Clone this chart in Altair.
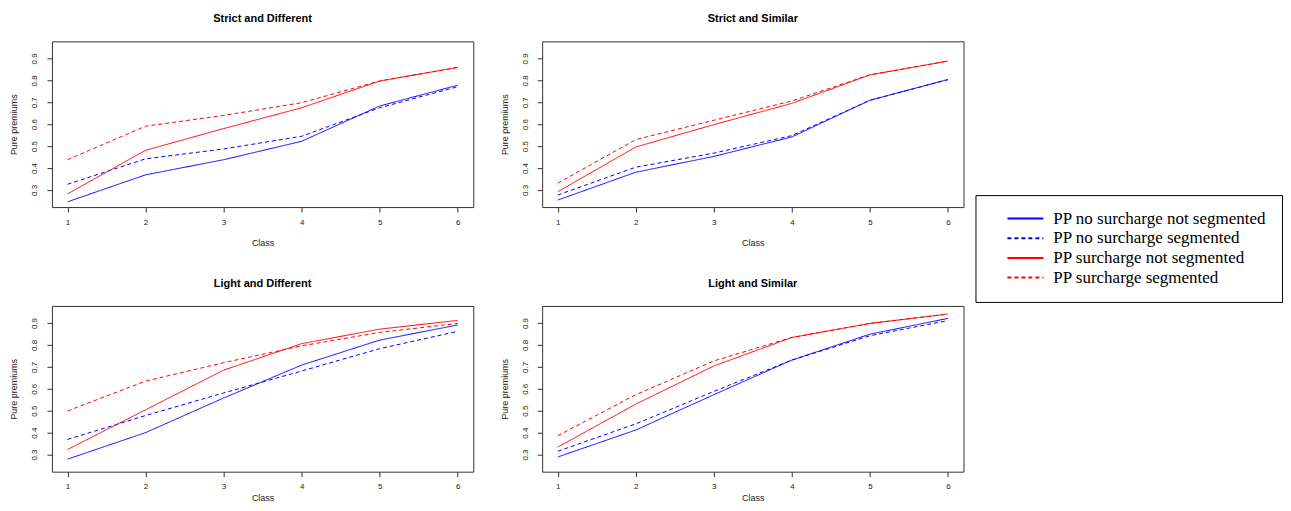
import altair as alt
import pandas as pd

classes = [1, 2, 3, 4, 5, 6]
series_names = [
    "PP no surcharge not segmented",
    "PP no surcharge segmented",
    "PP surcharge not segmented",
    "PP surcharge segmented",
]
series_colors = ["#0000ff", "#0000ff", "#ff0000", "#ff0000"]
series_dashes = [[1, 0], [4, 3], [1, 0], [4, 3]]
panel_titles = ["Strict and Different", "Strict and Similar", "Light and Different", "Light and Similar"]
y_ticks = [0.3, 0.4, 0.5, 0.6, 0.7, 0.8, 0.9]

# Strict and Different
sd_no_ns = [0.246, 0.369, 0.438, 0.522, 0.683, 0.778]
sd_no_s = [0.326, 0.442, 0.487, 0.545, 0.675, 0.771]
sd_su_ns = [0.282, 0.481, 0.580, 0.675, 0.797, 0.859]
sd_su_s = [0.438, 0.591, 0.640, 0.698, 0.797, 0.859]
# Strict and Similar
ss_no_ns = [0.254, 0.381, 0.453, 0.542, 0.709, 0.804]
ss_no_s = [0.277, 0.404, 0.468, 0.548, 0.709, 0.803]
ss_su_ns = [0.292, 0.496, 0.598, 0.695, 0.825, 0.888]
ss_su_s = [0.331, 0.530, 0.618, 0.706, 0.825, 0.888]
# Light and Different
ld_no_ns = [0.279, 0.400, 0.558, 0.708, 0.822, 0.891]
ld_no_s = [0.369, 0.478, 0.581, 0.681, 0.783, 0.862]
ld_su_ns = [0.323, 0.504, 0.685, 0.806, 0.872, 0.912]
ld_su_s = [0.499, 0.635, 0.719, 0.796, 0.857, 0.898]
# Light and Similar
ls_no_ns = [0.289, 0.412, 0.573, 0.731, 0.849, 0.921]
ls_no_s = [0.315, 0.440, 0.588, 0.731, 0.842, 0.911]
ls_su_ns = [0.334, 0.530, 0.704, 0.834, 0.898, 0.941]
ls_su_s = [0.386, 0.573, 0.727, 0.834, 0.898, 0.941]

panel_series = [
    [sd_no_ns, sd_no_s, sd_su_ns, sd_su_s],
    [ss_no_ns, ss_no_s, ss_su_ns, ss_su_s],
    [ld_no_ns, ld_no_s, ld_su_ns, ld_su_s],
    [ls_no_ns, ls_no_s, ls_su_ns, ls_su_s],
]

FONT = "Liberation Sans"


def make_panel(title, series_list, x_title_pad):
    rows = []
    for name, vals in zip(series_names, series_list):
        for c, v in zip(classes, vals):
            rows.append({"Class": c, "value": v, "series": name})
    df = pd.DataFrame(rows)
    return (
        alt.Chart(df)
        .mark_line(strokeWidth=1)
        .encode(
            x=alt.X(
                "Class:Q",
                scale=alt.Scale(domain=[0.8, 6.2], nice=False, zero=False),
                axis=alt.Axis(values=classes, format="d", title="Class",
                              labelPadding=6, titlePadding=x_title_pad),
            ),
            y=alt.Y(
                "value:Q",
                scale=alt.Scale(domain=[0.222, 0.978], nice=False, zero=False),
                axis=alt.Axis(values=y_ticks, format=".1f", title="Pure premiums",
                              labelAngle=270, labelAlign="center", labelBaseline="bottom",
                              labelPadding=8, titlePadding=12),
            ),
            color=alt.Color(
                "series:N",
                scale=alt.Scale(domain=series_names, range=series_colors),
                legend=alt.Legend(title=None),
            ),
            strokeDash=alt.StrokeDash(
                "series:N",
                scale=alt.Scale(domain=series_names, range=series_dashes),
                legend=alt.Legend(title=None),
            ),
            detail="series:N",
        )
        .properties(width=422, height=166, title=title)
    )


pads = [12, 12, 3, 3]
panels = [make_panel(t, s, p) for t, s, p in zip(panel_titles, panel_series, pads)]

chart = (
    alt.vconcat(
        alt.hconcat(panels[0], panels[1], spacing=25),
        alt.hconcat(panels[2], panels[3], spacing=25),
        spacing=29,
    )
    .resolve_scale(color="shared", strokeDash="shared")
    .properties(padding={"left": 1, "top": 4, "right": 0, "bottom": 0}, background="white")
    .configure_view(stroke="#333333", strokeWidth=1)
    .configure_title(font=FONT, fontSize=11, fontWeight="bold", color="black",
                     offset=17, anchor="middle")
    .configure_axis(
        domain=False, grid=False, tickSize=5, tickColor="#333333", tickWidth=1,
        labelFont=FONT, labelFontSize=8, labelColor="#222222",
        titleFont=FONT, titleFontSize=9, titleFontWeight="normal", titleColor="#222222",
    )
    .configure_legend(
        orient="none", legendX=925, legendY=154,
        strokeColor="black", fillColor="white", padding=15,
        symbolOffset=16, symbolType="stroke", symbolSize=1296, symbolStrokeWidth=2,
        labelFont="Liberation Serif", labelFontSize=17, labelColor="black",
        labelOffset=9, rowPadding=1.7, clipHeight=17, labelLimit=400,
    )
)

chart.save("out.html", embed_options={"renderer": "svg", "actions": False})
